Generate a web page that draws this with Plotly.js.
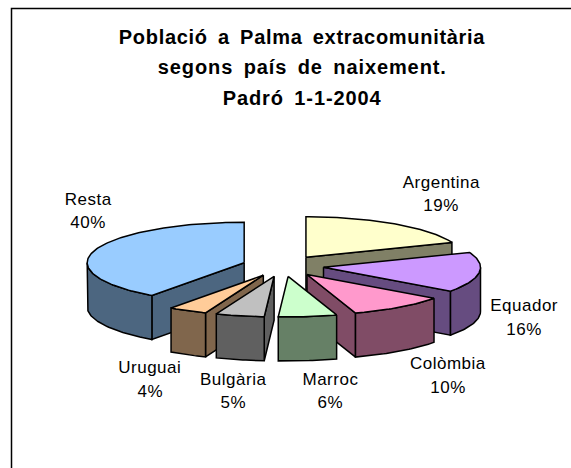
<!DOCTYPE html>
<html>
<head>
<meta charset="utf-8">
<script src="https://cdn.plot.ly/plotly-3.0.1.min.js"></script>
<style>
html,body{margin:0;padding:0;background:#ffffff;}
#chart{width:571px;height:468px;}
.gtitle{letter-spacing:0.7px;word-spacing:4px;}
.annotation text{letter-spacing:0.5px;}
.annotation[data-index="0"] text,.annotation[data-index="1"] text{letter-spacing:0.9px;word-spacing:4px;}
</style>
</head>
<body>
<div id="chart"></div>
<script>
// ---- data ----
const countries = ['Argentina', 'Equador', 'Colòmbia', 'Marroc', 'Bulgària', 'Uruguai', 'Resta'];
const shares = [19, 16, 10, 6, 5, 4, 40];
const topColors = ['#FFFFCC', '#CC99FF', '#FF99CC', '#CCFFCC', '#C0C0C0', '#FFCC99', '#99CCFF'];
const sideColors = ['#808066', '#664C80', '#804C66', '#668066', '#606060', '#80664C', '#4C6680'];
const titleLines = ['Població a Palma extracomunitària', 'segons país de naixement.', 'Padró 1-1-2004'];

// ---- layout constants (pixel space of the axes) ----
const CX = 283, CY = 266, RX = 157, RY = 40.5, DEPTH = 44, EXPLODE = 0.26;
const labelPos = [[441, 194], [524, 317.5], [448, 375.5], [330, 391], [233, 391], [150, 379.5], [88, 211]];
const LABEL_GAP = 11.7;
const titlePos = [[302, 36.5], [302, 67], [302, 97.8]];
const FONT = 'Liberation Sans, Arial, sans-serif';

const total = shares.reduce((s, v) => s + v, 0);
const pctText = shares.map(v => Math.round(v / total * 100) + '%');

function arc(cx, cy, t0, t1, dy) {
  const n = Math.max(2, Math.ceil(Math.abs(t1 - t0) / 0.02));
  const xs = [], ys = [];
  for (let k = 0; k <= n; k++) {
    const t = t0 + (t1 - t0) * k / n;
    xs.push(cx + RX * Math.sin(t));
    ys.push(cy - RY * Math.cos(t) + dy);
  }
  return [xs, ys];
}
function poly(xs, ys, color) {
  return {type: 'scatter', mode: 'lines', x: xs.concat([xs[0]]), y: ys.concat([ys[0]]),
    fill: 'toself', fillcolor: color, line: {color: '#000000', width: 1.5},
    hoverinfo: 'skip', showlegend: false};
}

const slices = [];
let cum = 0;
shares.forEach((v, i) => {
  const a = cum / total * 2 * Math.PI;
  const b = (cum + v) / total * 2 * Math.PI;
  cum += v;
  const m = (a + b) / 2;
  const cx = CX + EXPLODE * RX * Math.sin(m);
  const cy = CY - EXPLODE * RY * Math.cos(m);
  slices.push({i, a, b, m, cx, cy});
});
// paint back slices first
slices.sort((p, q) => Math.cos(q.m) - Math.cos(p.m));

const traces = [];
slices.forEach(s => {
  const side = sideColors[s.i], top = topColors[s.i];
  // radial cut faces
  [[s.a, Math.sin(s.a) < -1e-6], [s.b, Math.sin(s.b) > 1e-6]].forEach(([t, vis]) => {
    if (!vis) return;
    const rx = s.cx + RX * Math.sin(t), ry = s.cy - RY * Math.cos(t);
    traces.push(poly([s.cx, rx, rx, s.cx], [s.cy, ry, ry + DEPTH, s.cy + DEPTH], side));
  });
  // outer curved wall (front half only)
  const lo = Math.max(s.a, Math.PI / 2), hi = Math.min(s.b, 3 * Math.PI / 2);
  if (hi > lo) {
    const [x1, y1] = arc(s.cx, s.cy, lo, hi, 0);
    const [x2, y2] = arc(s.cx, s.cy, hi, lo, DEPTH);
    traces.push(poly(x1.concat(x2), y1.concat(y2), side));
  }
  // top face
  const [xa, ya] = arc(s.cx, s.cy, s.a, s.b, 0);
  traces.push(poly([s.cx].concat(xa), [s.cy].concat(ya), top));
});

const annotations = [];
titleLines.slice(1).forEach((t, k) => {
  annotations.push({x: titlePos[k + 1][0], y: titlePos[k + 1][1], xref: 'x', yref: 'y', text: t,
    showarrow: false, xanchor: 'center', yanchor: 'middle',
    font: {family: FONT, size: 20, weight: 700, color: '#000000'}});
});
countries.forEach((c, i) => {
  annotations.push({x: labelPos[i][0], y: labelPos[i][1] - LABEL_GAP, xref: 'x', yref: 'y', text: c,
    showarrow: false, xanchor: 'center', yanchor: 'middle', font: {family: FONT, size: 17, color: '#000000'}});
  annotations.push({x: labelPos[i][0], y: labelPos[i][1] + LABEL_GAP, xref: 'x', yref: 'y', text: pctText[i],
    showarrow: false, xanchor: 'center', yanchor: 'middle', font: {family: FONT, size: 17, color: '#000000'}});
});

const layout = {
  width: 571, height: 468,
  margin: {l: 0, r: 0, t: 0, b: 0, pad: 0},
  paper_bgcolor: '#ffffff', plot_bgcolor: '#ffffff',
  title: {text: titleLines[0], xref: 'container', yref: 'container',
    x: titlePos[0][0] / 571, y: 1 - titlePos[0][1] / 468, xanchor: 'center', yanchor: 'middle',
    font: {family: FONT, size: 20, weight: 700, color: '#000000'}},
  xaxis: {range: [0, 571], visible: false, fixedrange: true},
  yaxis: {range: [468, 0], visible: false, fixedrange: true},
  showlegend: false,
  shapes: [{type: 'rect', xref: 'x', yref: 'y', x0: 11.5, y0: 8.5, x1: 620, y1: 520,
    line: {color: '#000000', width: 1.5}, fillcolor: 'rgba(0,0,0,0)', layer: 'below'}],
  annotations: annotations
};

Plotly.newPlot('chart', traces, layout, {staticPlot: true, displayModeBar: false});
</script>
</body>
</html>
